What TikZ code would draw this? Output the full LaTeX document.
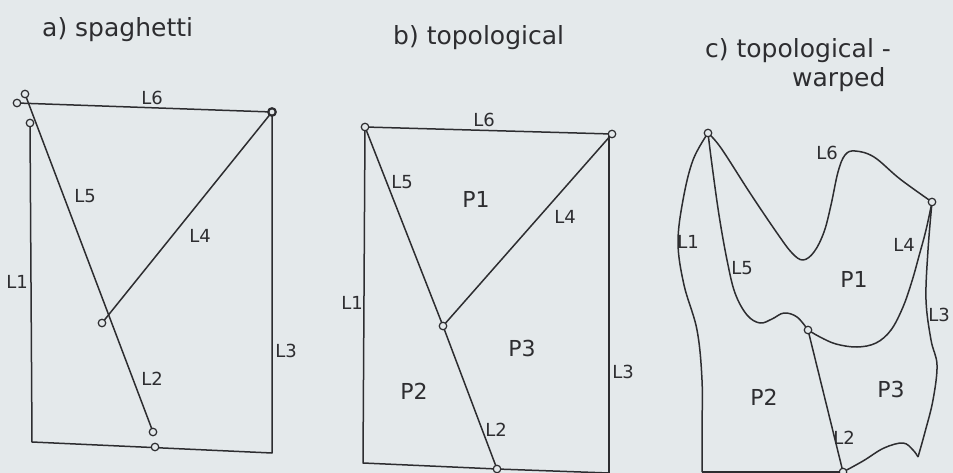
\documentclass[tikz,border=0pt]{standalone}
\usepackage{fontspec}
\setmainfont{DejaVu Sans}
\definecolor{bg}{RGB}{228,233,235}
\definecolor{ink}{RGB}{45,45,48}
\tikzset{
  edge/.style={draw=ink, line width=1.5pt, line join=round},
  vtx/.style={circle, draw=ink, fill=bg, line width=1.2pt, inner sep=0pt, minimum size=7.5pt},
  boldvtx/.style={vtx, line width=2.2pt},
  lbl/.style={text=ink, inner sep=0pt, font=\fontsize{18}{20}\selectfont},
  plbl/.style={text=ink, inner sep=0pt, font=\fontsize{22}{24}\selectfont},
  ttl/.style={text=ink, inner sep=0pt, anchor=base west, font=\fontsize{25}{28}\selectfont},
}
\begin{document}
\begin{tikzpicture}[x=1pt,y=-1pt]
\fill[bg] (0,0) rectangle (953,473);
\useasboundingbox (0,0) rectangle (953,473);

% ---------- titles
\node[ttl] (ta) at (42,37) {a) spaghetti};
\node[ttl] (tb) at (393,45) {b) topological};
\node[ttl] (tc) at (705,58) {c) topological -};
\node[ttl] (tc2) at (792,87) {warped};

% ---------- a) spaghetti
\coordinate (a6s) at (17,103);
\coordinate (a5s) at (25,94);
\coordinate (a1s) at (30,123);
\coordinate (aTR) at (272,112);
\coordinate (a4e) at (102,323);
\coordinate (a5e) at (153,432);
\coordinate (aBL) at (32,442);
\coordinate (aBR) at (272,453);
\coordinate (aBm) at (155,447);
\draw[edge] (a6s) -- (aTR);
\draw[edge] (a5s) -- (a5e);
\draw[edge] (a1s) -- (aBL) -- (aBR) -- (aTR);
\draw[edge] (aTR) -- (a4e);
\node[vtx] (va6) at (a6s) {};
\node[vtx] (va5) at (a5s) {};
\node[vtx] (va1) at (a1s) {};
\node[boldvtx] (vaTR) at (aTR) {};
\node[vtx] (va4) at (a4e) {};
\node[vtx] (va5e) at (a5e) {};
\node[vtx] (vaB) at (aBm) {};
\node[lbl] (la6) at (152,98) {L6};
\node[lbl] (la5) at (85,196) {L5};
\node[lbl] (la4) at (200,236) {L4};
\node[lbl] (la1) at (17,282) {L1};
\node[lbl] (la3) at (286,351) {L3};
\node[lbl] (la2) at (152,379) {L2};

% ---------- b) topological
\coordinate (bA) at (365,127);
\coordinate (bB) at (612,134);
\coordinate (bM) at (443,326);
\coordinate (bD) at (497,469);
\coordinate (bBL) at (363,463);
\coordinate (bBR) at (609,473);
\coordinate (bTR) at (609,134);
\draw[edge] (bA) -- (bB);
\draw[edge] (bA) -- (bM) -- (bD);
\draw[edge] (bB) -- (bM);
\draw[edge] (bA) -- (bBL) -- (bD) -- (bBR);
\draw[edge] (bTR) -- (bBR);
\node[vtx] (vbA) at (bA) {};
\node[vtx] (vbB) at (bB) {};
\node[vtx] (vbM) at (bM) {};
\node[vtx] (vbD) at (bD) {};
\node[lbl] (lb6) at (484,120) {L6};
\node[lbl] (lb5) at (402,182) {L5};
\node[plbl] (pb1) at (476,199) {P1};
\node[lbl] (lb4) at (565,217) {L4};
\node[lbl] (lb1) at (352,303) {L1};
\node[plbl] (pb3) at (522,348) {P3};
\node[lbl] (lb3) at (623,372) {L3};
\node[plbl] (pb2) at (414,391) {P2};
\node[lbl] (lb2) at (496,430) {L2};

% ---------- c) topological - warped
\coordinate (cA) at (708,133);
\coordinate (cR) at (932,202);
\coordinate (cM) at (808,330);
\coordinate (cD) at (843,472);
\coordinate (cBL) at (702,472);
\coordinate (cBR) at (918,457);
% L1
\draw[edge] plot[smooth, tension=0.6] coordinates {(cA) (693,160) (683,200) (678,243) (684,285) (697,330) (702,380) (702,430) (cBL)};
% L5
\draw[edge] plot[smooth, tension=0.6] coordinates {(cA) (712,165) (719,215) (727,260) (735,293) (747,315) (760,323) (772,319) (784,313) (797,317) (cM)};
% L6
\draw[edge] plot[smooth, tension=0.6] coordinates {(cA) (721,148) (750,193) (777,233) (792,253) (803,260) (814,252) (824,232) (831,205) (838,172) (845,155) (855,151) (874,157) (900,179) (cR)};
% L4
\draw[edge] plot[smooth, tension=0.6] coordinates {(cR) (926,230) (919,256) (912,281) (903,307) (891,330) (876,343) (857,347) (836,344) (820,337) (cM)};
% L3
\draw[edge] plot[smooth, tension=0.6] coordinates {(cR) (928,250) (926,300) (931,340) (937,365) (933,400) (925,432) (cBR)};
% bottom right
\draw[edge] plot[smooth, tension=0.6] coordinates {(cD) (863,461) (884,448) (903,443) (913,450) (cBR)};
% L2 and bottom
\draw[edge] (cM) -- (cD);
\draw[edge] (cBL) -- (cD);
\node[vtx] (vcA) at (cA) {};
\node[vtx] (vcR) at (cR) {};
\node[vtx] (vcM) at (cM) {};
\node[vtx] (vcD) at (cD) {};
\node[lbl] (lc6) at (827,153) {L6};
\node[lbl] (lc4) at (904,245) {L4};
\node[plbl] (pc1) at (854,279) {P1};
\node[lbl] (lc1) at (688,242) {L1};
\node[lbl] (lc5) at (742,268) {L5};
\node[lbl] (lc3) at (939,315) {L3};
\node[plbl] (pc2) at (764,397) {P2};
\node[plbl] (pc3) at (891,389) {P3};
\node[lbl] (lc2) at (844,438) {L2};
\end{tikzpicture}
\end{document}
